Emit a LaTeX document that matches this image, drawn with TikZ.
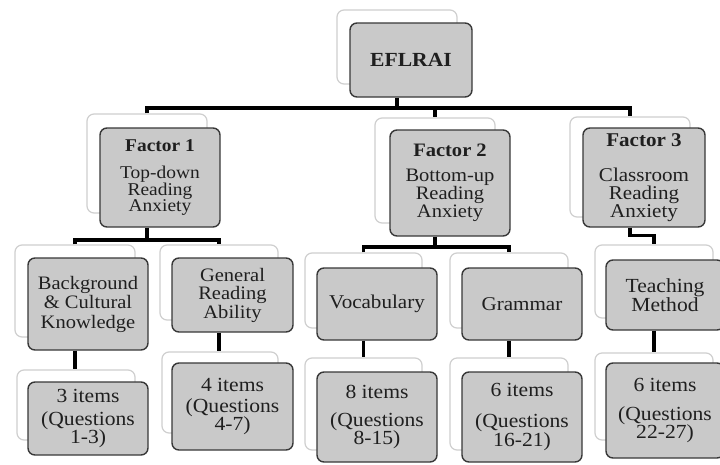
\documentclass[tikz,border=0pt]{standalone}
\usepackage{fontspec}
\setmainfont{Liberation Serif}[FakeStretch=1.08]
\newcommand\setfs[2]{\fontsize{#1}{#2}\selectfont\lineskiplimit=-30pt\relax}
\tikzset{
  backbox/.style={draw=gray!38, line width=1.2pt, fill=white, rounded corners=7pt, inner sep=0pt},
  frontbox/.style={draw=black!78, line width=1.4pt, fill=gray!42, rounded corners=7pt,
    align=center, inner sep=0pt, text=black!88},
  conn/.style={draw=black, line width=3.2pt}
}
\begin{document}
\begin{tikzpicture}[x=1pt,y=-1pt]
\clip (0,0) rectangle (720,464);
\fill[white] (0,0) rectangle (720,464);
% ---- back boxes
\node[backbox, minimum width=120, minimum height=74] (eb)  at (397,47) {};
\node[backbox, minimum width=120, minimum height=99] (f1b) at (147,163.5) {};
\node[backbox, minimum width=120, minimum height=105] (f2b) at (435,170.5) {};
\node[backbox, minimum width=120, minimum height=100] (f3b) at (630,167) {};
\node[backbox, minimum width=120, minimum height=92] (bgb) at (75,291) {};
\node[backbox, minimum width=118, minimum height=75] (grb) at (219,282.5) {};
\node[backbox, minimum width=117, minimum height=75] (vob) at (363.5,290.5) {};
\node[backbox, minimum width=118, minimum height=75] (gmb) at (509,290.5) {};
\node[backbox, minimum width=118, minimum height=73] (tmb) at (654,281.5) {};
\node[backbox, minimum width=118, minimum height=70] (i1b) at (76,405) {};
\node[backbox, minimum width=116, minimum height=81] (i2b) at (220,392.5) {};
\node[backbox, minimum width=117, minimum height=92] (i3b) at (363.5,404) {};
\node[backbox, minimum width=118, minimum height=92] (i4b) at (509,404) {};
\node[backbox, minimum width=118, minimum height=87] (i5b) at (654,396.5) {};
% ---- front boxes
\node[frontbox, minimum width=122, minimum height=74, font=\setfs{20}{20}] (e) at (411,60) {\textbf{EFLRAI}};
\node[frontbox, minimum width=120, minimum height=99, font=\setfs{18}{16.5}] (f1) at (160,177.5)
  {\textbf{Factor 1}\\[10.5pt]Top-down\\Reading\\Anxiety};
\node[frontbox, minimum width=120, minimum height=106, font=\setfs{19}{18}] (f2) at (450,183)
  {\textbf{Factor 2}\\[6.5pt]Bottom-up\\Reading\\Anxiety};
\node[frontbox, minimum width=122, minimum height=99, font=\setfs{19.5}{18}] (f3) at (644,177.5)
  {\textbf{Factor 3}\\[17pt]Classroom\\Reading\\Anxiety};
\node[frontbox, minimum width=120, minimum height=92, font=\setfs{19}{19.5}] (bg) at (88,304)
  {Background\\\& Cultural\\Knowledge};
\node[frontbox, minimum width=121, minimum height=74, font=\setfs{19}{18.5}] (gr) at (232.5,295)
  {General\\Reading\\Ability};
\node[frontbox, minimum width=120, minimum height=72, font=\setfs{19.5}{18}] (vo) at (377,304) {Vocabulary};
\node[frontbox, minimum width=120, minimum height=72, font=\setfs{19.5}{18}] (gm) at (522,304) {Grammar};
\node[frontbox, minimum width=118, minimum height=70, font=\setfs{20}{19.5}] (tm) at (665,295)
  {Teaching\\Method};
\node[frontbox, minimum width=120, minimum height=73, font=\setfs{20}{18.5}] (i1) at (88,418.5)
  {3 items\\[4pt](Questions\\1-3)};
\node[frontbox, minimum width=121, minimum height=87, font=\setfs{20}{18.5}] (i2) at (232.5,406.5)
  {4 items\\[2.5pt](Questions\\4-7)};
\node[frontbox, minimum width=120, minimum height=90, font=\setfs{20}{18.5}] (i3) at (377,417)
  {8 items\\[9.5pt](Questions\\8-15)};
\node[frontbox, minimum width=120, minimum height=90, font=\setfs{20}{18.5}] (i4) at (522,417)
  {6 items\\[12.5pt](Questions\\16-21)};
\node[frontbox, minimum width=118, minimum height=95, font=\setfs{20}{18.5}] (i5) at (665,410.5)
  {6 items\\[10.5pt](Questions\\22-27)};
% ---- connectors
\coordinate (bus0) at (0,108);
\coordinate (bus1) at (0,240);
\coordinate (bus2) at (0,247);
\draw[conn] (eb |- e.south) -- (eb |- bus0);
\draw[conn] (f1b.north) -- (f1b |- bus0) -- (f3b |- bus0) -- (f3b.north);
\draw[conn] (f2b |- bus0) -- (f2b.north);
\draw[conn] (f1b |- f1.south) -- (f1b |- bus1);
\draw[conn] (bgb.north) -- (bgb |- bus1) -- (grb |- bus1) -- (grb.north);
\draw[conn] (f2b |- f2.south) -- (f2b |- bus2);
\draw[conn] (vob.north) -- (vob |- bus2) -- (gmb |- bus2) -- (gmb.north);
\draw[conn] (f3b |- f3.south) -- ++(0,8) -| (tmb.north);
\draw[conn] (bgb |- bg.south) -- (bgb |- i1b.north);
\draw[conn] (grb |- gr.south) -- (grb |- i2b.north);
\draw[conn] (vob |- vo.south) -- (vob |- i3b.north);
\draw[conn] (gmb |- gm.south) -- (gmb |- i4b.north);
\draw[conn] (tmb |- tm.south) -- (tmb |- i5b.north);
\end{tikzpicture}
\end{document}
